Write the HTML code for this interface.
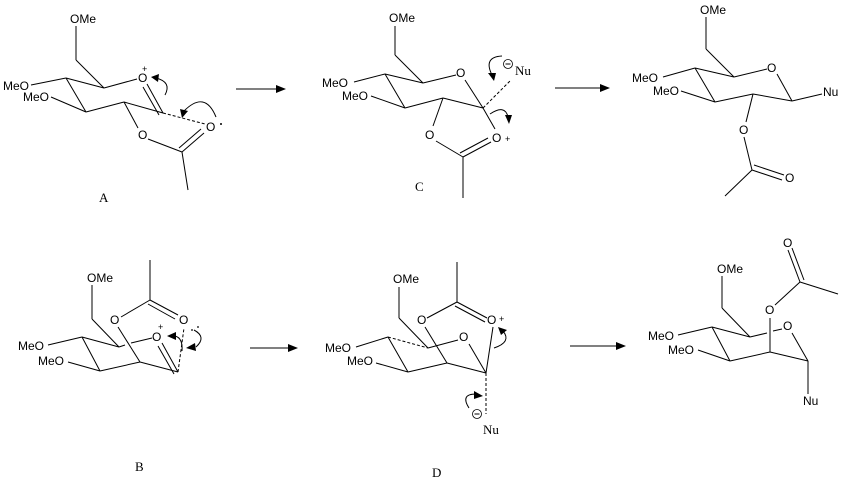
<!DOCTYPE html>
<html><head><style>
html,body{margin:0;padding:0;background:#fff;}
svg{display:block;}
text{font-family:"Liberation Sans",sans-serif;font-size:12px;fill:#000;}
.s{font-family:"Liberation Serif",serif;font-size:13px;}
line,path,polyline{stroke:#000;stroke-width:1;fill:none;}
.d{stroke-dasharray:3,2;}
.h{fill:#000;stroke:none;}
</style></head><body>
<svg width="847" height="487" viewBox="0 0 847 487">
<!-- ===== A ===== -->
<text x="70" y="23">OMe</text>
<line x1="76" y1="26" x2="76" y2="60"/><line x1="76" y1="60" x2="104" y2="88"/>
<line x1="104" y1="88" x2="137" y2="79"/>
<text x="3" y="90">MeO</text><line x1="31" y1="85" x2="66" y2="78"/>
<text x="23" y="101">MeO</text><line x1="51" y1="97" x2="86" y2="112"/>
<line x1="66" y1="78" x2="104" y2="88"/><line x1="66" y1="78" x2="86" y2="112"/>
<line x1="86" y1="112" x2="124" y2="102"/><line x1="124" y1="102" x2="163" y2="113"/>
<line x1="163" y1="113" x2="147" y2="84"/><line x1="159" y1="115" x2="143" y2="87"/>
<text x="138" y="82">O</text><text x="142" y="72" style="font-size:9px">+</text>
<line x1="124" y1="102" x2="138" y2="128"/>
<text x="138" y="139">O</text>
<line x1="148" y1="139" x2="182" y2="152"/><line x1="182" y1="152" x2="188" y2="190"/>
<line x1="182" y1="152" x2="204" y2="133"/><line x1="179" y1="148" x2="201" y2="129"/>
<text x="206" y="131">O</text><circle class="h" cx="221" cy="124" r="1"/>
<line class="d" x1="163" y1="113" x2="205" y2="124"/>
<path d="M165,95 Q172,82 156,78"/><polygon class="h" points="151,77 159,74 158,82"/>
<path d="M216,117 Q205,90 184,111"/><polygon class="h" points="182,118 180,109 188,111"/>
<text class="s" x="99" y="202">A</text>
<!-- arrow 1 -->
<line x1="236" y1="89" x2="278" y2="89"/><polygon class="h" points="286,89 276,85 276,93"/>
<!-- ===== C ===== -->
<text x="389" y="22">OMe</text>
<line x1="395" y1="26" x2="395" y2="55"/><line x1="395" y1="55" x2="423" y2="83"/>
<line x1="423" y1="83" x2="456" y2="75"/>
<text x="456" y="77">O</text>
<line x1="465" y1="80" x2="483" y2="108"/>
<text x="322" y="87">MeO</text><line x1="354" y1="82" x2="385" y2="74"/>
<text x="342" y="100">MeO</text><line x1="371" y1="96" x2="405" y2="108"/>
<line x1="385" y1="74" x2="423" y2="83"/><line x1="385" y1="74" x2="405" y2="108"/>
<line x1="405" y1="108" x2="443" y2="98"/><line x1="443" y1="98" x2="483" y2="108"/>
<line x1="443" y1="98" x2="433" y2="126"/>
<text x="425" y="139">O</text>
<line x1="436" y1="141" x2="463" y2="157"/><line x1="463" y1="157" x2="463" y2="198"/>
<line x1="463" y1="157" x2="491" y2="142"/><line x1="460" y1="153" x2="488" y2="138"/>
<text x="492" y="142">O</text><text x="505" y="142" style="font-size:9px">+</text>
<line x1="483" y1="108" x2="495" y2="129"/>
<line class="d" x1="483" y1="108" x2="511" y2="80"/>
<circle cx="508" cy="64" r="4.5" style="stroke:#000;fill:none;stroke-width:.8"/><line x1="505.5" y1="64" x2="510.5" y2="64"/>
<text class="s" x="515" y="75">Nu</text>
<path d="M502,56 Q483,57 492,75"/><polygon class="h" points="494,81 488,73 496,73"/>
<path d="M490,114 Q505,104 508,117"/><polygon class="h" points="509,124 505,115 512,115"/>
<text class="s" x="415" y="191">C</text>
<!-- arrow 2 -->
<line x1="555" y1="88" x2="600" y2="88"/><polygon class="h" points="610,88 600,84 600,92"/>
<!-- ===== product 1 ===== -->
<text x="700" y="14">OMe</text>
<line x1="706" y1="17" x2="706" y2="49"/><line x1="706" y1="49" x2="734" y2="77"/>
<line x1="734" y1="77" x2="767" y2="69"/>
<text x="767" y="72">O</text>
<line x1="777" y1="74" x2="792" y2="101"/>
<text x="632" y="82">MeO</text><line x1="663" y1="77" x2="695" y2="68"/>
<text x="653" y="95">MeO</text><line x1="681" y1="91" x2="715" y2="102"/>
<line x1="695" y1="68" x2="734" y2="77"/><line x1="695" y1="68" x2="715" y2="102"/>
<line x1="715" y1="102" x2="753" y2="94"/><line x1="753" y1="94" x2="792" y2="101"/>
<line x1="792" y1="101" x2="822" y2="94"/><text x="823" y="96">Nu</text>
<line x1="753" y1="94" x2="746" y2="122"/>
<text x="739" y="134">O</text>
<line x1="744" y1="137" x2="752" y2="170"/><line x1="752" y1="170" x2="725" y2="196"/>
<line x1="752" y1="170" x2="782" y2="180"/><line x1="754" y1="165" x2="784" y2="175"/>
<text x="785" y="182">O</text>
<!-- ===== B ===== -->
<line x1="150" y1="260" x2="150" y2="300"/>
<line x1="150" y1="300" x2="121" y2="317"/>
<text x="110" y="324">O</text>
<line x1="150" y1="300" x2="178" y2="315"/><line x1="148" y1="304" x2="175" y2="319"/>
<text x="179" y="324">O</text>
<circle class="h" cx="192" cy="330" r="0.9"/><circle class="h" cx="198" cy="327" r="0.9"/>
<text x="87" y="282">OMe</text>
<line x1="92" y1="285" x2="92" y2="319"/><line x1="92" y1="319" x2="119" y2="347"/>
<line x1="119" y1="347" x2="125" y2="345"/><line x1="131" y1="343" x2="152" y2="338"/>
<text x="152" y="341">O</text><text x="158" y="330" style="font-size:9px">+</text>
<text x="18" y="350">MeO</text><line x1="48" y1="345" x2="82" y2="337"/>
<text x="38" y="365">MeO</text><line x1="68" y1="362" x2="100" y2="371"/>
<line x1="82" y1="337" x2="119" y2="347"/><line x1="82" y1="337" x2="100" y2="371"/>
<line x1="100" y1="371" x2="140" y2="362"/><line x1="140" y1="362" x2="178" y2="372"/>
<line x1="140" y1="362" x2="118" y2="327"/>
<line x1="178" y1="372" x2="162" y2="343"/><line x1="174" y1="374" x2="158" y2="346"/>
<line class="d" x1="178" y1="372" x2="184" y2="328"/>
<path d="M182,351 Q183,338 175,336"/><polygon class="h" points="167,336 176,332 176,340"/>
<path d="M194,330 Q207,337 196,347"/><polygon class="h" points="186,348 195,343 196,351"/>
<text class="s" x="135" y="471">B</text>
<!-- arrow 3 -->
<line x1="250" y1="348" x2="290" y2="348"/><polygon class="h" points="298,348 288,344 288,352"/>
<!-- ===== D ===== -->
<line x1="457" y1="262" x2="457" y2="302"/>
<line x1="457" y1="302" x2="427" y2="318"/>
<text x="417" y="324">O</text>
<line x1="457" y1="302" x2="487" y2="318"/><line x1="455" y1="306" x2="485" y2="322"/>
<text x="487" y="324">O</text><text x="499" y="322" style="font-size:9px">+</text>
<text x="393" y="283">OMe</text>
<line x1="399" y1="287" x2="399" y2="318"/><line x1="399" y1="318" x2="428" y2="348"/>
<line class="d" x1="388" y1="337" x2="428" y2="348"/>
<line x1="428" y1="348" x2="458" y2="340"/>
<text x="459" y="341">O</text>
<line x1="469" y1="344" x2="486" y2="373"/>
<text x="325" y="352">MeO</text><line x1="356" y1="347" x2="388" y2="337"/>
<text x="347" y="365">MeO</text><line x1="376" y1="363" x2="408" y2="372"/>
<line x1="388" y1="337" x2="408" y2="372"/>
<line x1="408" y1="372" x2="447" y2="363"/><line x1="447" y1="363" x2="486" y2="373"/>
<line x1="447" y1="363" x2="425" y2="327"/>
<line x1="486" y1="373" x2="493" y2="327"/>
<line class="d" x1="486" y1="373" x2="486" y2="414"/>
<circle cx="477" cy="414" r="4.5" style="stroke:#000;fill:none;stroke-width:.8"/><line x1="474.5" y1="414" x2="479.5" y2="414"/>
<text class="s" x="483" y="434">Nu</text>
<path d="M469,408 Q460,394 476,394"/><polygon class="h" points="483,396 474,391 474,399"/>
<path d="M494,348 Q512,342 503,331"/><polygon class="h" points="498,327 507,330 501,335"/>
<text class="s" x="432" y="477">D</text>
<!-- arrow 4 -->
<line x1="570" y1="346" x2="617" y2="346"/><polygon class="h" points="626,346 616,342 616,350"/>
<!-- ===== product 2 ===== -->
<text x="783" y="247">O</text>
<line x1="788" y1="250" x2="800" y2="282"/><line x1="792" y1="248" x2="804" y2="280"/>
<line x1="800" y1="282" x2="838" y2="294"/>
<line x1="800" y1="282" x2="775" y2="305"/>
<text x="765" y="314">O</text>
<text x="717" y="273">OMe</text>
<line x1="722" y1="276" x2="722" y2="308"/><line x1="722" y1="308" x2="750" y2="337"/>
<line x1="750" y1="337" x2="767" y2="333"/><line x1="773" y1="331" x2="782" y2="329"/>
<text x="783" y="330">O</text>
<line x1="792" y1="333" x2="808" y2="361"/>
<text x="648" y="340">MeO</text><line x1="678" y1="335" x2="712" y2="327"/>
<text x="668" y="354">MeO</text><line x1="698" y1="350" x2="730" y2="361"/>
<line x1="712" y1="327" x2="750" y2="337"/><line x1="712" y1="327" x2="730" y2="361"/>
<line x1="730" y1="361" x2="770" y2="352"/><line x1="770" y1="352" x2="808" y2="361"/>
<line x1="770" y1="352" x2="770" y2="318"/>
<line x1="808" y1="361" x2="808" y2="394"/>
<text x="803" y="405">Nu</text>
</svg>
</body></html>
